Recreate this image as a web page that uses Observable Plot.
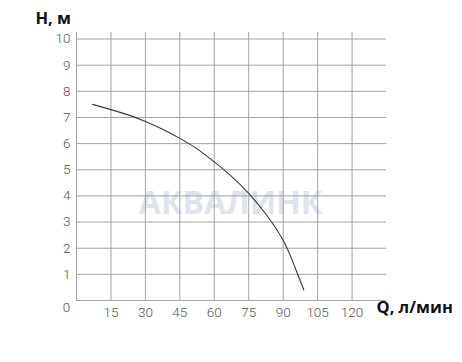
<!DOCTYPE html>
<html>
<head>
<meta charset="utf-8">
<script src="https://cdn.jsdelivr.net/npm/d3@7"></script>
<script src="https://cdn.jsdelivr.net/npm/@observablehq/plot@0.6"></script>
<style>
  html, body { margin: 0; padding: 0; background: #fff; }
  #chart { width: 462px; height: 362px; }
</style>
</head>
<body>
<div id="chart"></div>
<script>
// Flow Q (л/мин) and head H (м)
const flowQ = [7, 15, 22.5, 30, 37.5, 45, 52.5, 60, 67.5, 75, 82.5, 90, 95, 99];
const headH = [7.5, 7.3, 7.1, 6.85, 6.55, 6.2, 5.8, 5.3, 4.75, 4.1, 3.3, 2.3, 1.3, 0.4];
const xTicks = [15, 30, 45, 60, 75, 90, 105, 120];
const yTicks = [1, 2, 3, 4, 5, 6, 7, 8, 9, 10];
const yTitle = "H, м";
const xTitle = "Q, л/мин";
const watermark = "АКВАЛИНК";

const curve = flowQ.map((q, i) => ({q, h: headH[i]}));
const gridColor = "#a3a3a3";
const labelColor = "#555";

const chart = Plot.plot({
  width: 462,
  height: 362,
  marginLeft: 76,
  marginRight: 76,
  marginTop: 32,
  marginBottom: 62,
  style: {fontFamily: "Roboto, 'DejaVu Sans', sans-serif", background: "#fff"},
  x: {domain: [0, 135], axis: null},
  y: {domain: [0, 10.25], axis: null},
  marks: [
    // watermark
    Plot.text([watermark], {frameAnchor: "middle", dx: -1, dy: 37, text: d => d,
      fontSize: 32, fontWeight: "bold", fill: "#dde4eb", letterSpacing: 5, fontFamily: "'Open Sans', 'DejaVu Sans', sans-serif"}),
    // horizontal grid
    Plot.ruleY(yTicks, {x1: 0, x2: 135, stroke: gridColor, strokeWidth: 1}),
    // vertical grid
    Plot.ruleX(xTicks, {y1: 0, y2: 10.25, stroke: gridColor, strokeWidth: 1}),
    // axes
    Plot.ruleY([0], {x1: 0, x2: 135, stroke: gridColor, strokeWidth: 1}),
    Plot.ruleX([0], {y1: 0, y2: 10.25, stroke: gridColor, strokeWidth: 1}),
    // curve
    Plot.line(curve, {x: "q", y: "h", curve: "natural", stroke: "#3a3a3a", strokeWidth: 1.1}),
    // tick labels
    Plot.text(yTicks, {x: 0, y: d => d, text: d => String(d), dx: -6, textAnchor: "end",
      fontSize: 13.5, fill: labelColor, fontWeight: 300}),
    Plot.text(xTicks, {x: d => d, y: 0, text: d => String(d), dy: 12,
      fontSize: 13.5, fill: labelColor, fontWeight: 300}),
    Plot.text([0], {x: 0, y: 0, text: d => String(d), dx: -10, dy: 7,
      fontSize: 13.5, fill: labelColor, fontWeight: 300}),
    // titles
    Plot.text([yTitle], {frameAnchor: "top-left", text: d => d, dx: -41, dy: -20, textAnchor: "start",
      fontSize: 16.5, fontWeight: "bold", fill: "#111", fontFamily: "'Open Sans', 'DejaVu Sans', sans-serif"}),
    Plot.text([xTitle], {frameAnchor: "bottom-right", text: d => d, dx: -10, dy: 12, textAnchor: "start",
      fontSize: 16.5, fontWeight: "bold", fill: "#111", fontFamily: "'Open Sans', 'DejaVu Sans', sans-serif"})
  ]
});
document.getElementById("chart").appendChild(chart);
</script>
</body>
</html>
